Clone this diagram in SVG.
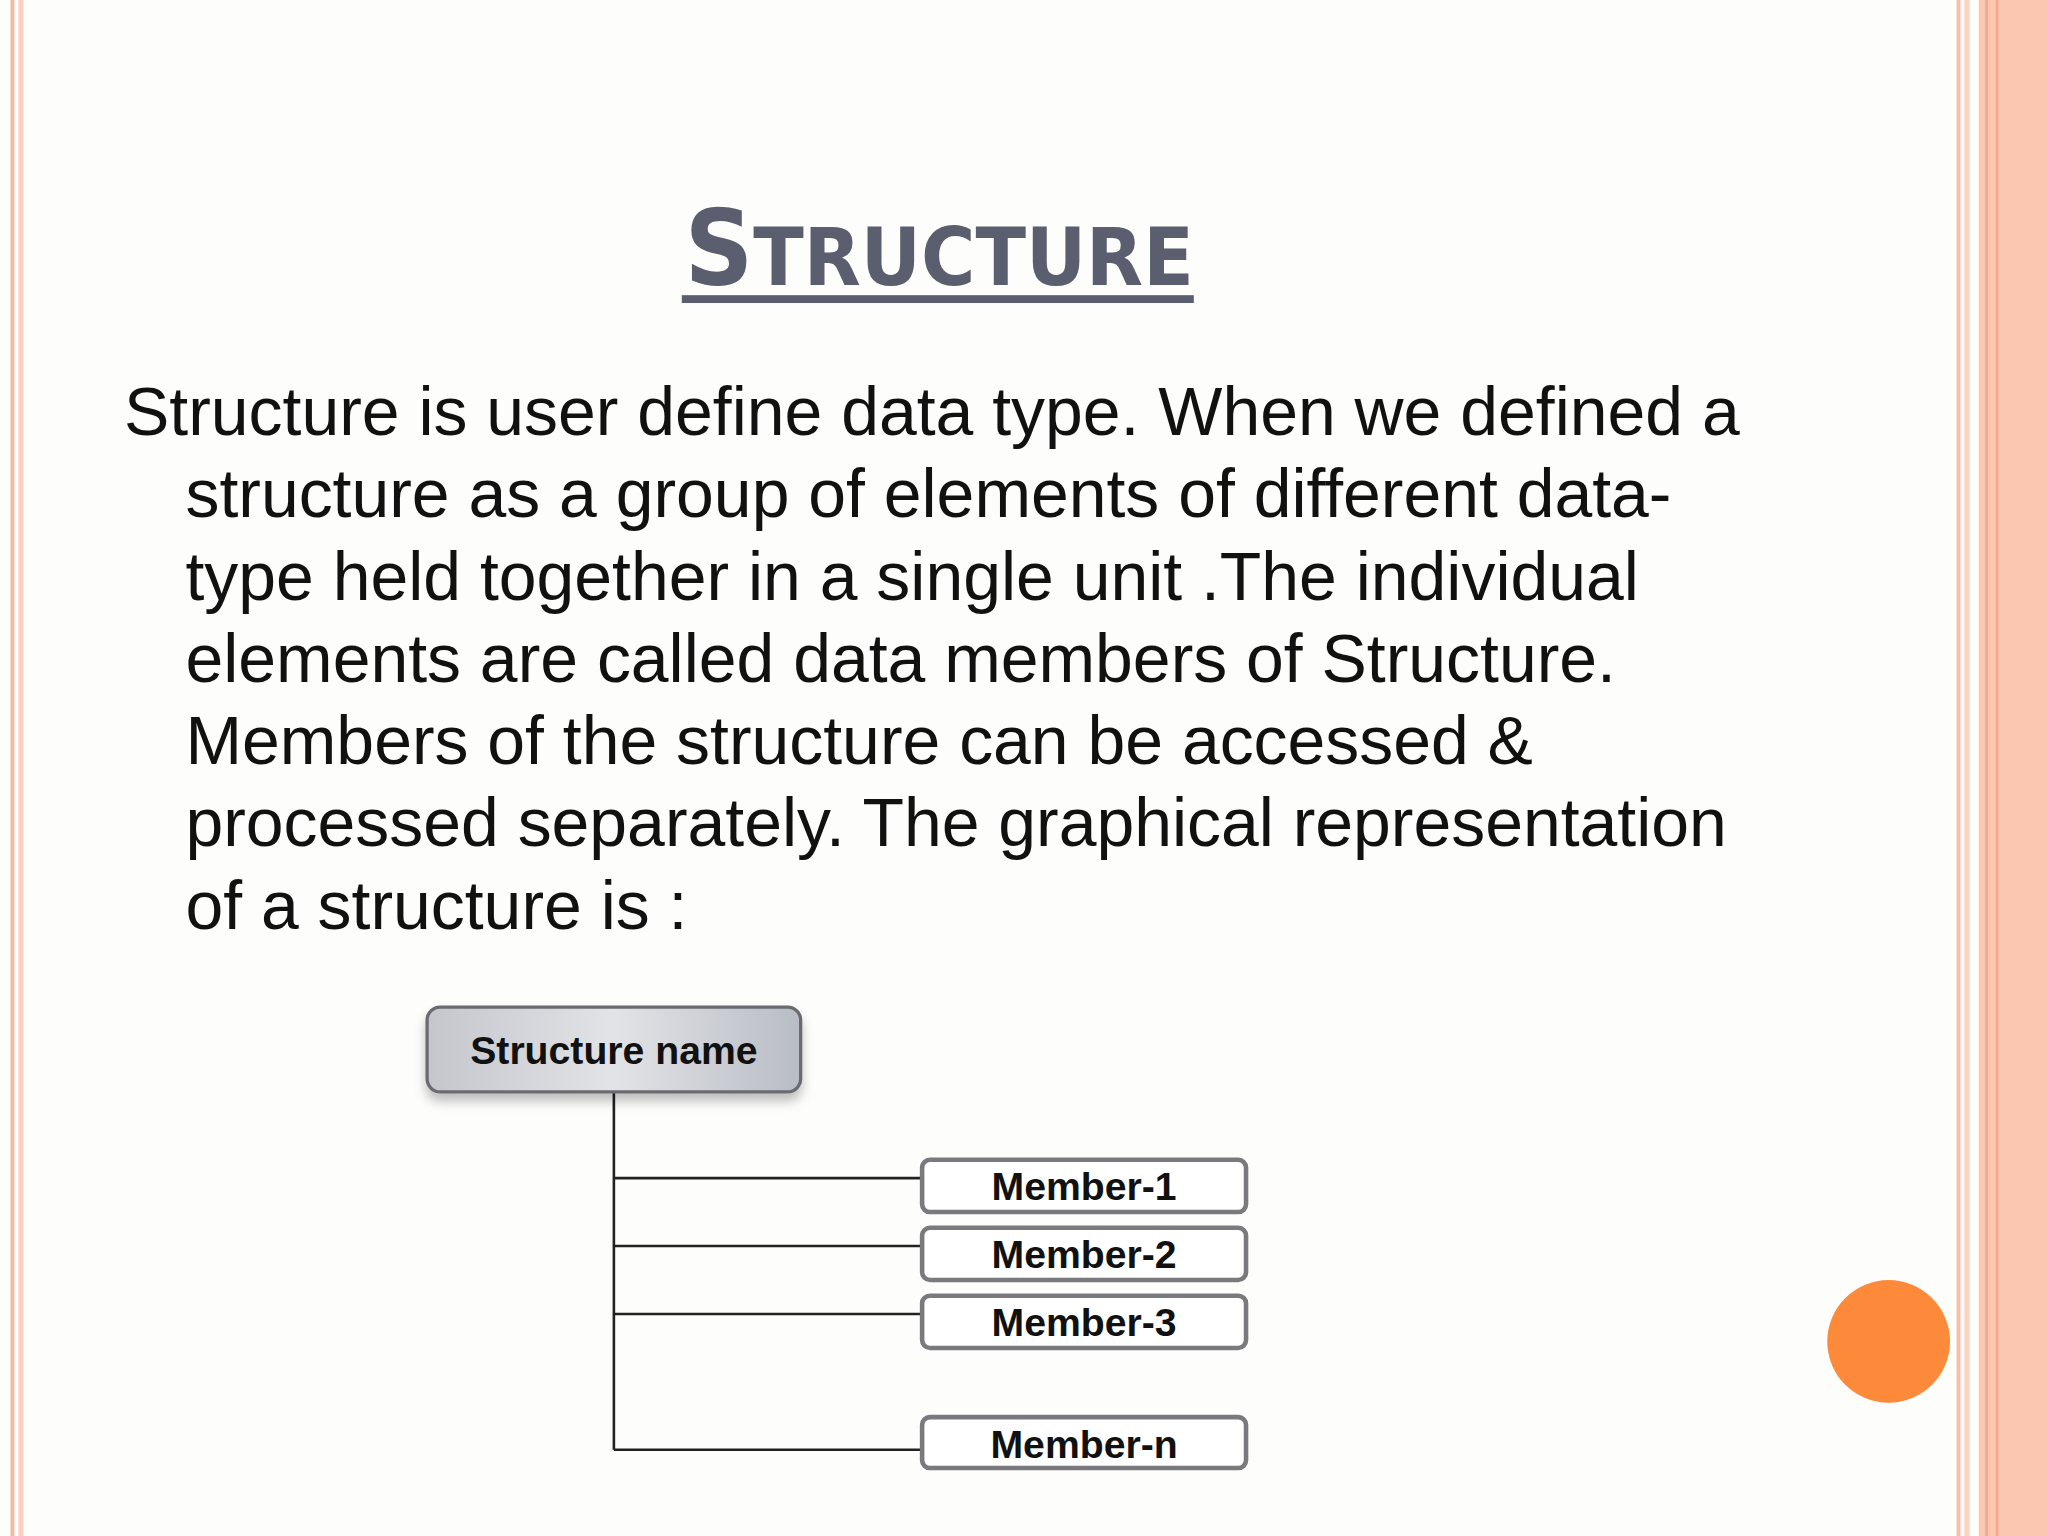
<svg xmlns="http://www.w3.org/2000/svg" width="2048" height="1536" viewBox="0 0 2048 1536">
<style>
.p{font-family:"Liberation Sans",Arial,sans-serif;font-size:52px;fill:#111}
.b{font-family:"Liberation Sans",Arial,sans-serif;font-weight:bold;font-size:30px;fill:#111;text-anchor:middle}
.m rect{fill:#fff;stroke:#7a7a7e;stroke-width:3.5}
.c line{stroke:#222;stroke-width:2}
</style>
<defs>
<linearGradient id="g" x1="0" x2="1" y1="0" y2="0">
<stop offset="0" stop-color="#c4c6cc"/><stop offset="0.5" stop-color="#e2e3e6"/><stop offset="1" stop-color="#b8bcc4"/>
</linearGradient>
<filter id="sh" x="-10%" y="-10%" width="120%" height="140%"><feDropShadow dx="0" dy="6" stdDeviation="4" flood-color="#000" flood-opacity="0.25"/></filter>
</defs>
<rect width="2048" height="1536" fill="#fdfdfb"/>
<g transform="scale(1.30612)">
<rect x="8" y="0" width="3" height="1176" fill="#f8b9a3"/>
<rect x="14" y="0" width="4" height="1176" fill="#fbd0c0"/>
<rect x="1498" y="0" width="3" height="1176" fill="#f9bea8"/>
<rect x="1504" y="0" width="4" height="1176" fill="#fbd3c3"/>
<rect x="1515" y="0" width="53" height="1176" fill="#fcc7b0"/>
<rect x="1520" y="0" width="2" height="1176" fill="#f3a88c"/>
<rect x="1528" y="0" width="2" height="1176" fill="#f3a88c"/>
<g id="title">
<text x="524" y="218" textLength="390" lengthAdjust="spacingAndGlyphs" font-family="'DejaVu Sans',sans-serif" font-weight="bold" fill="#5a5e6e" font-size="80">S<tspan font-size="62">TRUCTURE</tspan></text>
<rect x="522" y="226" width="392" height="6" fill="#5a5e6e"/>
</g>
<g id="body">
<text class="p" x="95" y="333">Structure is user define data type. When we defined a</text>
<text class="p" x="142" y="396">structure as a group of elements of different data-</text>
<text class="p" x="142" y="459">type held together in a single unit .The individual</text>
<text class="p" x="142" y="522">elements are called data members of Structure.</text>
<text class="p" x="142" y="585">Members of the structure can be accessed &amp;</text>
<text class="p" x="142" y="648">processed separately. The graphical representation</text>
<text class="p" x="142" y="711">of a structure is :</text>
</g>
<g class="c" id="connectors">
<line x1="470" y1="836" x2="470" y2="1110" stroke-width="1.5"/>
<line x1="470" y1="902" x2="706" y2="902"/>
<line x1="470" y1="954" x2="706" y2="954"/>
<line x1="470" y1="1006" x2="706" y2="1006"/>
<line x1="470" y1="1110" x2="706" y2="1110"/>
</g>
<g id="root">
<rect x="327" y="771" width="286" height="65" rx="10" fill="url(#g)" stroke="#6b6b70" stroke-width="2.5" filter="url(#sh)"/>
<text class="b" x="470" y="815">Structure name</text>
</g>
<g id="m1" class="m"><rect x="706" y="888" width="248" height="40" rx="6"/><text class="b" x="830" y="919">Member-1</text></g>
<g id="m2" class="m"><rect x="706" y="940" width="248" height="40" rx="6"/><text class="b" x="830" y="971">Member-2</text></g>
<g id="m3" class="m"><rect x="706" y="992" width="248" height="40" rx="6"/><text class="b" x="830" y="1023">Member-3</text></g>
<g id="mn" class="m"><rect x="706" y="1085" width="248" height="39" rx="6"/><text class="b" x="830" y="1116">Member-n</text></g>
<circle cx="1446" cy="1027" r="47" fill="#fd8a3a"/>
</g>
</svg>
